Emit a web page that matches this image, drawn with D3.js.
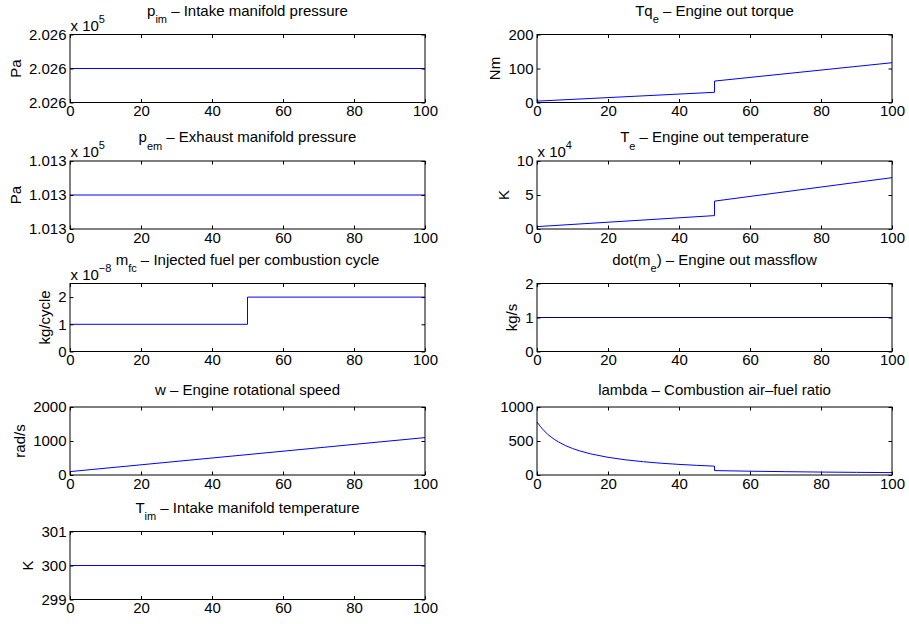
<!DOCTYPE html>
<html>
<head>
<meta charset="utf-8">
<script src="https://cdn.jsdelivr.net/npm/d3@7"></script>
<style>
  html, body { margin: 0; padding: 0; background: #ffffff; }
  svg { display: block; }
  text { font-family: "Liberation Sans", Arial, Helvetica, sans-serif; fill: #000; }
</style>
</head>
<body>
<svg id="chart" width="909" height="624"></svg>
<script>
// ---- Simulation traces (time in s) ----
const xTicks = [0, 20, 40, 60, 80, 100];

const pimTime = [0, 100];
const pimVal = [202600, 202600];
const pimTicks = [202599, 202600, 202601];
const pimTickLabels = ["2.026", "2.026", "2.026"];

const pemTime = [0, 100];
const pemVal = [101300, 101300];
const pemTicks = [101299, 101300, 101301];
const pemTickLabels = ["1.013", "1.013", "1.013"];

const mfcTime = [0, 50, 50, 100];
const mfcVal = [1e-8, 1e-8, 2e-8, 2e-8];
const mfcTicks = [0, 1e-8, 2e-8];
const mfcTickLabels = ["0", "1", "2"];

const wTime = [0, 100];
const wVal = [100, 1100];
const wTicks = [0, 1000, 2000];
const wTickLabels = ["0", "1000", "2000"];

const timTime = [0, 100];
const timVal = [300, 300];
const timTicks = [299, 300, 301];
const timTickLabels = ["299", "300", "301"];

const tqTime = [0, 50, 50, 100];
const tqVal = [4, 30, 63, 117];
const tqTicks = [0, 100, 200];
const tqTickLabels = ["0", "100", "200"];

const teTime = [0, 50, 50, 100];
const teVal = [3500, 19700, 41000, 75500];
const teTicks = [0, 50000, 100000];
const teTickLabels = ["0", "5", "10"];

const meTime = [0, 100];
const meVal = [1, 1];
const meTicks = [0, 1, 2];
const meTickLabels = ["0", "1", "2"];

const lamTime = [0, 1, 2, 3, 4, 5, 6, 8, 10, 12, 15, 20, 25, 30, 35, 40, 45, 50,
                 50, 60, 70, 80, 90, 100];
const lamVal = [780, 709, 650, 600, 557, 520, 488, 433, 390, 355, 312, 260, 223, 195, 173, 156, 142, 130,
                65, 56, 49, 43, 39, 35];
const lamTicks = [0, 500, 1000];
const lamTickLabels = ["0", "500", "1000"];

// ---- Layout ----
const colLeft = [70, 537];
const rowTop = [34.5, 161, 283.5, 407, 531.5];
const axW = 355, axH = 68;
const tickLen = 3.5;
const fontSize = 15;
const smallSize = 11;
const lineBlue = "#0000ff";
const lineNavy = "#00008b";

const panels = [
  { col: 0, row: 0, t: pimTime, v: pimVal, dom: [202599, 202601], ticks: pimTicks, labels: pimTickLabels,
    exp: "5", ylabel: "Pa", title: [["p"], ["im", "sub"], [" – Intake manifold pressure"]] },
  { col: 0, row: 1, t: pemTime, v: pemVal, dom: [101299, 101301], ticks: pemTicks, labels: pemTickLabels,
    exp: "5", ylabel: "Pa", title: [["p"], ["em", "sub"], [" – Exhaust manifold pressure"]] },
  { col: 0, row: 2, t: mfcTime, v: mfcVal, dom: [0, 2.5e-8], ticks: mfcTicks, labels: mfcTickLabels,
    exp: "−8", ylabel: "kg/cycle", title: [["m"], ["fc", "sub"], [" – Injected fuel per combustion cycle"]] },
  { col: 0, row: 3, t: wTime, v: wVal, dom: [0, 2000], ticks: wTicks, labels: wTickLabels,
    exp: null, ylabel: "rad/s", title: [["w – Engine rotational speed"]] },
  { col: 0, row: 4, t: timTime, v: timVal, dom: [299, 301], ticks: timTicks, labels: timTickLabels,
    exp: null, ylabel: "K", title: [["T"], ["im", "sub"], [" – Intake manifold temperature"]] },
  { col: 1, row: 0, t: tqTime, v: tqVal, dom: [0, 200], ticks: tqTicks, labels: tqTickLabels,
    exp: null, ylabel: "Nm", title: [["Tq"], ["e", "sub"], [" – Engine out torque"]] },
  { col: 1, row: 1, t: teTime, v: teVal, dom: [0, 100000], ticks: teTicks, labels: teTickLabels,
    exp: "4", ylabel: "K", title: [["T"], ["e", "sub"], [" – Engine out temperature"]] },
  { col: 1, row: 2, t: meTime, v: meVal, dom: [0, 2], ticks: meTicks, labels: meTickLabels,
    exp: null, ylabel: "kg/s", color: lineNavy, title: [["dot(m"], ["e", "sub"], [") – Engine out massflow"]] },
  { col: 1, row: 3, t: lamTime, v: lamVal, dom: [0, 1000], ticks: lamTicks, labels: lamTickLabels,
    exp: null, ylabel: null, title: [["lambda – Combustion air–fuel ratio"]] }
];

const svg = d3.select("#chart");
svg.append("rect").attr("width", 909).attr("height", 624).attr("fill", "#ffffff");

function styleAxis(g) {
  g.select(".domain").remove();
  g.selectAll(".tick line").attr("stroke", "#000").attr("stroke-width", 1);
  g.selectAll("text").attr("font-size", fontSize + "px").attr("fill", "#000");
  g.attr("font-family", null).attr("font-size", null);
}

panels.forEach(p => {
  const g = svg.append("g")
    .attr("transform", `translate(${colLeft[p.col]},${rowTop[p.row]})`);

  const x = d3.scaleLinear().domain([0, 100]).range([0, axW]);
  const y = d3.scaleLinear().domain(p.dom).range([axH, 0]);

  // trace
  g.append("path")
    .datum(d3.zip(p.t, p.v))
    .attr("fill", "none")
    .attr("stroke", p.color || lineBlue)
    .attr("stroke-width", 1)
    .attr("d", d3.line().x(d => x(d[0])).y(d => y(d[1])));

  // inward ticks on all four sides
  const bottom = g.append("g").attr("transform", `translate(0,${axH})`)
    .call(d3.axisBottom(x).tickValues(xTicks).tickSize(-tickLen).tickPadding(3).tickFormat(d3.format("d")));
  styleAxis(bottom);
  const top = g.append("g")
    .call(d3.axisTop(x).tickValues(xTicks).tickSize(-tickLen).tickFormat(""));
  styleAxis(top);
  const left = g.append("g")
    .call(d3.axisLeft(y).tickValues(p.ticks).tickSize(-tickLen).tickPadding(3.5)
      .tickFormat((d, i) => p.labels[i]));
  styleAxis(left);
  const right = g.append("g").attr("transform", `translate(${axW},0)`)
    .call(d3.axisRight(y).tickValues(p.ticks).tickSize(-tickLen).tickFormat(""));
  styleAxis(right);

  // box
  g.append("rect")
    .attr("x", 0).attr("y", 0).attr("width", axW).attr("height", axH)
    .attr("fill", "none").attr("stroke", "#000").attr("stroke-width", 1);

  // y label, placed just left of the widest tick label
  if (p.ylabel) {
    let maxW = 0;
    left.selectAll(".tick text").each(function () {
      maxW = Math.max(maxW, this.getComputedTextLength());
    });
    const lx = -(3.5 + maxW + 8);
    g.append("text")
      .attr("transform", `translate(${lx},${axH / 2}) rotate(-90)`)
      .attr("text-anchor", "middle")
      .attr("font-size", fontSize + "px")
      .text(p.ylabel);
  }

  // axis exponent (x 10^n)
  if (p.exp) {
    const e = g.append("text")
      .attr("x", 0.5).attr("y", -4)
      .attr("font-size", fontSize + "px");
    e.append("tspan").text("x 10");
    e.append("tspan").attr("dy", -8).attr("font-size", smallSize + "px").text(p.exp);
  }

  // title with optional subscripts
  const hasSub = p.title.some(s => s[1] === "sub");
  const t = g.append("text")
    .attr("x", axW / 2)
    .attr("y", hasSub ? -19 : -12.5)
    .attr("text-anchor", "middle")
    .attr("font-size", fontSize + "px");
  let shifted = false;
  p.title.forEach(s => {
    const ts = t.append("tspan").text(s[0]);
    if (s[1] === "sub") {
      ts.attr("dy", 7.5).attr("font-size", smallSize + "px");
      shifted = true;
    } else if (shifted) {
      ts.attr("dy", -7.5);
      shifted = false;
    }
  });
});
</script>
</body>
</html>
